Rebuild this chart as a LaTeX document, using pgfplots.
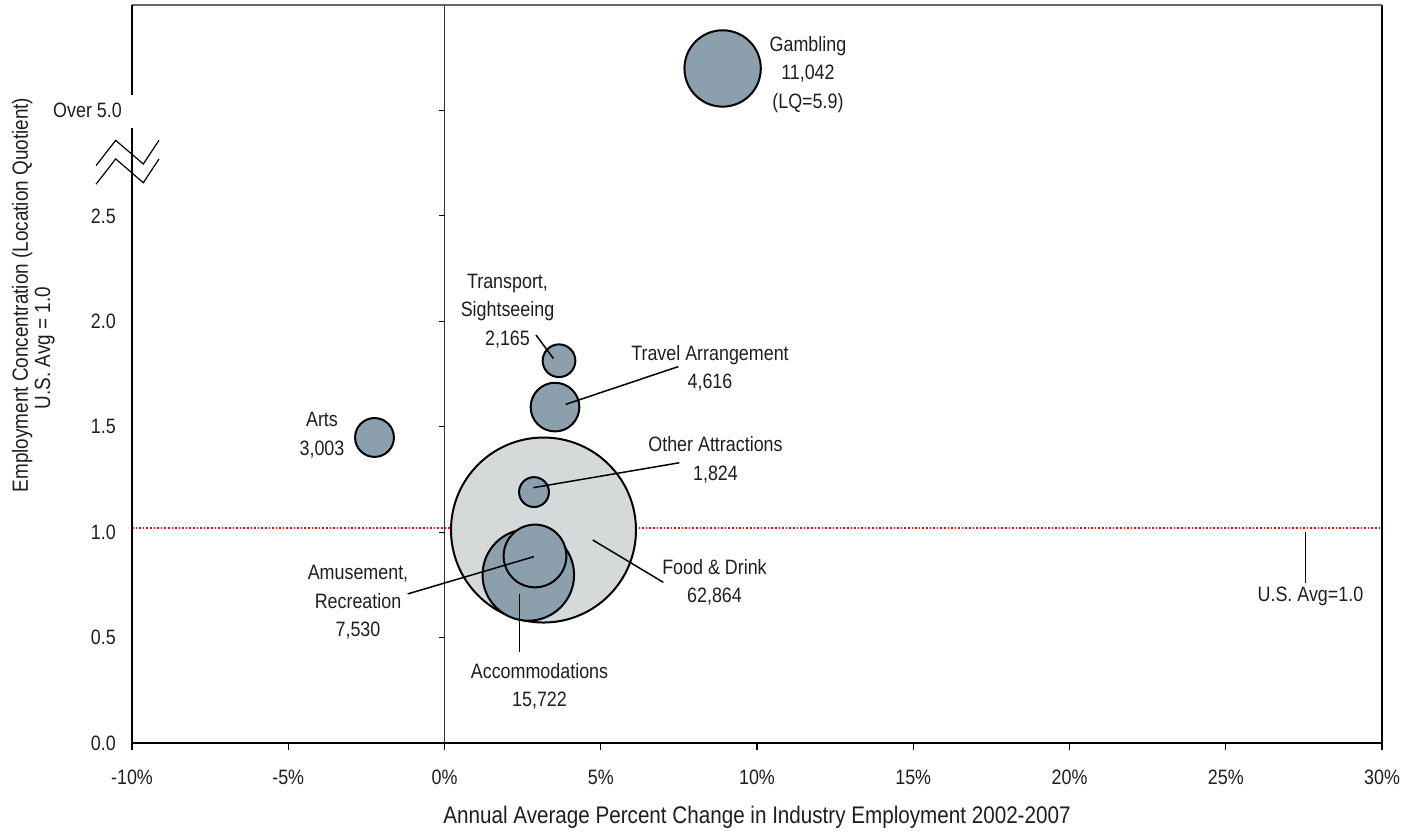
\documentclass[border=0pt]{standalone}
\usepackage{fontspec}
\setmainfont{Liberation Sans}[FakeStretch=0.86]
\usepackage{pgfplots}
\pgfplotsset{compat=1.18}
\usetikzlibrary{calc}

\definecolor{bub}{HTML}{8C9FAD}
\definecolor{food}{HTML}{D5D9D9}
\definecolor{txt}{HTML}{1E1E1E}

% x = annual avg % change 2002-2007, y = location quotient, emp = employment
\pgfplotstableread{
x y emp
3.168 1.010 62864
}\foodtab
\pgfplotstableread{
x y emp
8.90 3.199 11042
-2.24 1.449 3003
3.664 1.813 2165
3.536 1.593 4616
2.864 1.190 1824
2.682 0.797 15722
2.896 0.887 7530
}\bubbles

\pgfplotsset{
  bubble/.style={scatter, only marks, mark=*,
    scatter/use mapped color={draw=black, fill=#1},
    visualization depends on={0.18715*sqrt(\thisrow{emp})-0.5 \as \rad},
    scatter/@pre marker code/.append style={/tikz/mark size=\rad},
    mark options={line width=1bp}},
}

\begin{document}
\begin{tikzpicture}[font=\fontsize{10.4bp}{14.2bp}\selectfont]
\begin{axis}[
  set layers=standard,
  scale only axis, width=625bp, height=369bp,
  xmin=-10, xmax=30, ymin=0, ymax=3.5,
  clip=false,
  axis line style={draw=none},
  xtick={-10,-5,0,5,10,15,20,25,30},
  xticklabels={-10\%,-5\%,0\%,5\%,10\%,15\%,20\%,25\%,30\%},
  xtick pos=bottom, xtick align=outside,
  major tick length=3.5bp,
  xtick style={line width=0.7bp, black},
  xticklabel style={anchor=north, inner sep=0pt, yshift=-10bp, text=txt},
  ytick={0,0.5,1,1.5,2,2.5,3},
  yticklabels={0.0,0.5,1.0,1.5,2.0,2.5,Over 5.0\kern-3bp},
  ytick style={draw=none},
  yticklabel style={anchor=east, inner sep=0pt, xshift=-7.9bp, text=txt},
]
% U.S. average line
\addplot[red, densely dotted, line width=0.8bp] coordinates {(-10,1.02) (30,1.02)};

\addplot[bubble=food] table {\foodtab};
\addplot[bubble=bub] table {\bubbles};

\begin{pgfonlayer}{axis foreground}
% frame
\draw[line width=0.7bp] (axis cs:-10,2.917) -- (rel axis cs:0,0) -- (rel axis cs:1,0) -- (rel axis cs:1,1);
\draw[line width=0.7bp, black!60] (rel axis cs:0,1) -- (rel axis cs:1,1);
\draw[line width=0.7bp] (rel axis cs:0,1) -- (axis cs:-10,3.073);
\draw[line width=0.5bp, black!80] (axis cs:0,0) -- (axis cs:0,3.5);
\pgfplotsinvokeforeach{0,0.5,1,1.5,2,2.5,3}{
  \draw[line width=0.5bp] (axis cs:0,#1) -- ++(-3bp,0pt);
}

% axis break
\draw[line width=0.6bp] (axis cs:-11.152,2.738) -- (axis cs:-10.522,2.858) -- (axis cs:-9.638,2.746) -- (axis cs:-9.136,2.858);
\draw[line width=0.6bp] (axis cs:-11.152,2.650) -- (axis cs:-10.522,2.770) -- (axis cs:-9.638,2.657) -- (axis cs:-9.136,2.770);

% leader lines
\draw[line width=0.75bp] (axis cs:3.482,1.824) -- (axis cs:2.928,1.935);
\draw[line width=0.75bp] (axis cs:3.878,1.606) -- (axis cs:7.482,1.785);
\draw[line width=0.75bp] (axis cs:2.842,1.211) -- (axis cs:7.514,1.329);
\draw[line width=0.75bp] (axis cs:4.742,0.963) -- (axis cs:7.002,0.762);
\draw[line width=0.75bp] (axis cs:-1.178,0.707) -- (axis cs:2.864,0.884);
\draw[line width=0.75bp] (axis cs:2.394,0.707) -- (axis cs:2.394,0.433);
\draw[line width=0.75bp] (axis cs:27.546,0.999) -- (axis cs:27.546,0.760);

% labels
\begin{scope}[every node/.style={align=center, text=txt, inner sep=0pt}]
\node at (axis cs:11.63,3.170) {Gambling\\11,042\\(LQ=5.9)};
\node at (axis cs:-3.92,1.459) {Arts\\3,003};
\node at (axis cs:2.016,2.049) {Transport,\\Sightseeing\\2,165};
\node at (axis cs:8.496,1.778) {Travel Arrangement\\4,616};
\node at (axis cs:8.672,1.344) {Other Attractions\\1,824};
\node at (axis cs:8.64,0.761) {Food \& Drink\\62,864};
\node at (axis cs:-2.768,0.666) {Amusement,\\Recreation\\7,530};
\node at (axis cs:3.04,0.270) {Accommodations\\15,722};
\node at (axis cs:27.71,0.696) {U.S. Avg=1.0};
\node[anchor=base, font=\fontsize{12bp}{14bp}\selectfont] at (axis cs:10.0,-0.3794) {Annual Average Percent Change in Industry Employment 2002-2007};
\node[anchor=base, rotate=90, font=\fontsize{11bp}{13bp}\selectfont] at (axis cs:-13.328,2.125) {Employment Concentration (Location Quotient)};
\node[anchor=base, rotate=90, font=\fontsize{11bp}{13bp}\selectfont] at (axis cs:-12.624,1.873) {U.S. Avg = 1.0};
\end{scope}
\end{pgfonlayer}

\coordinate (bl) at (rel axis cs:0,0);
\coordinate (tr) at (rel axis cs:1,1);
\end{axis}
\pgfresetboundingbox
\path ($(bl)+(-66bp,-44.5bp)$) rectangle ($(tr)+(15.5bp,2.5bp)$);
\end{tikzpicture}
\end{document}
